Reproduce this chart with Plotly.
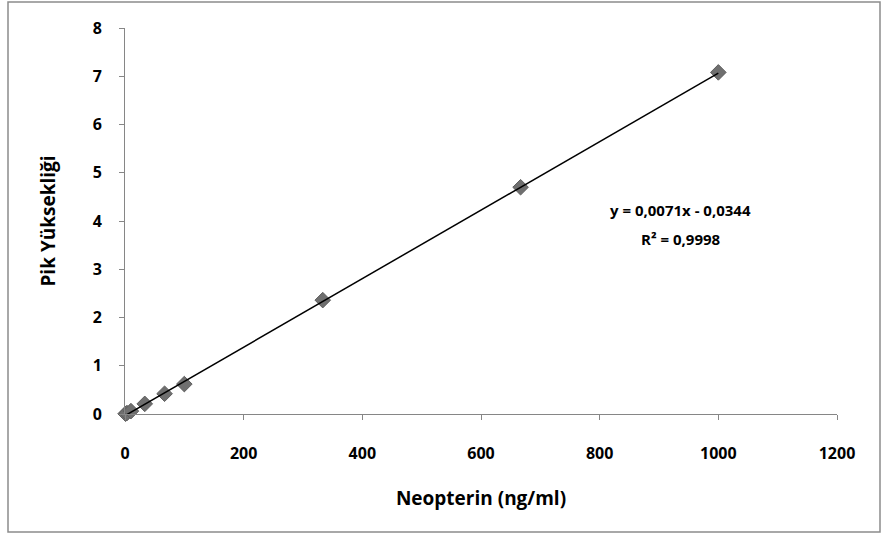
import plotly.graph_objects as go

# Neopterin calibration standards (ng/ml) and measured peak heights
concentration = [1.0, 3.3, 10.0, 33.3, 66.7, 100.0, 333.3, 666.7, 1000.0]
peak_height = [0.005, 0.02, 0.06, 0.21, 0.42, 0.62, 2.36, 4.70, 7.08]

# Linear trendline parameters
slope = 0.0071
intercept = -0.0344
r_squared = 0.9998

x_ticks = [0, 200, 400, 600, 800, 1000, 1200]
y_ticks = [0, 1, 2, 3, 4, 5, 6, 7, 8]

FONT = "Open Sans"
GREY_AXIS = "#868686"

fit_x = [min(concentration), max(concentration)]
fit_y = [slope * v + intercept for v in fit_x]

fig = go.Figure()
fig.add_trace(go.Scatter(
    x=concentration, y=peak_height, mode="markers",
    marker=dict(symbol="diamond", size=12, color="#6f6f6f",
                line=dict(color="#5f5f5f", width=1)),
    cliponaxis=False, showlegend=False,
))
fig.add_trace(go.Scatter(
    x=fit_x, y=fit_y, mode="lines",
    line=dict(color="black", width=1.5),
    cliponaxis=False, showlegend=False,
))

eq_line = ("y = " + f"{slope:.4f}".replace(".", ",") + "x - "
           + f"{abs(intercept):.4f}".replace(".", ","))
r2_line = "R² = " + f"{r_squared:.4f}".replace(".", ",")
eq_font = dict(family=FONT, size=15, color="black", weight="bold")
fig.add_annotation(x=937, y=4.23, xref="x", yref="y", text=eq_line,
                   showarrow=False, xanchor="center", yanchor="middle",
                   font=eq_font)
fig.add_annotation(x=937, y=3.63, xref="x", yref="y", text=r2_line,
                   showarrow=False, xanchor="center", yanchor="middle",
                   font=eq_font)

# chart-area border
fig.add_shape(
    type="rect", xref="paper", yref="paper",
    x0=(8 - 125) / 712, x1=(880 - 125) / 712,
    y0=(414 - 532) / 386, y1=(414 - 2) / 386,
    line=dict(color="#8c8c8c", width=1.5), layer="below",
)

fig.update_xaxes(
    range=[0, 1200], tickvals=x_ticks, ticktext=[str(v) for v in x_ticks],
    showline=True, linecolor=GREY_AXIS, linewidth=1,
    ticks="outside", ticklen=5, tickcolor=GREY_AXIS,
    showgrid=False, zeroline=False, ticklabelstandoff=20,
    tickfont=dict(family=FONT, size=16, color="black", weight="bold"),
    title=dict(text="Neopterin (ng/ml)", standoff=28,
               font=dict(family=FONT, size=19, color="black", weight="bold")),
)
fig.update_yaxes(
    range=[0, 8], tickvals=y_ticks, ticktext=[str(v) for v in y_ticks],
    showline=True, linecolor=GREY_AXIS, linewidth=1,
    ticks="outside", ticklen=5, tickcolor=GREY_AXIS,
    showgrid=False, zeroline=False, ticklabelstandoff=14,
    tickfont=dict(family=FONT, size=16, color="black", weight="bold"),
    title=dict(text="Pik Yüksekliği", standoff=31,
               font=dict(family=FONT, size=19, color="black", weight="bold")),
)

fig.update_layout(
    width=882, height=536,
    margin=dict(l=125, r=45, t=28, b=122),
    paper_bgcolor="white", plot_bgcolor="white",
)

fig.write_html("out.html")
